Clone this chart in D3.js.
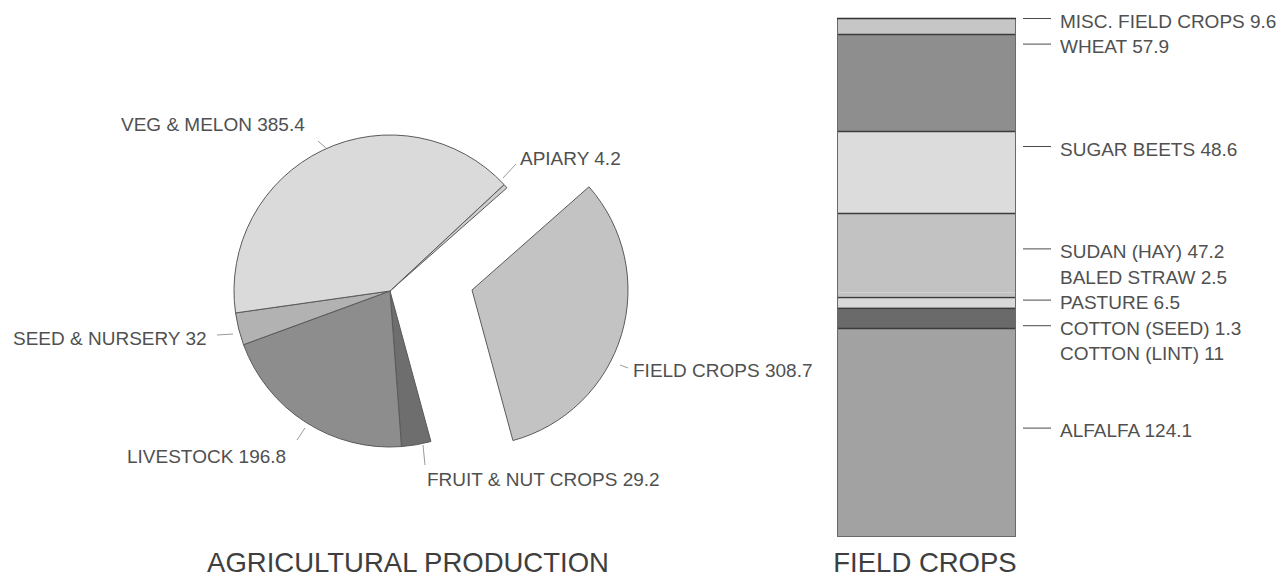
<!DOCTYPE html>
<html>
<head>
<meta charset="utf-8">
<script src="https://cdn.jsdelivr.net/npm/d3@7"></script>
<style>
  html, body { margin: 0; padding: 0; background: #fff; }
  svg { display: block; font-family: "Liberation Sans", Arial, Helvetica, sans-serif; }
</style>
</head>
<body>
<svg id="chart" width="1282" height="577"></svg>
<script>
// Agricultural production by sector (pie, clockwise from the apiary sliver)
const prodCategories = ["APIARY", "FIELD CROPS", "FRUIT & NUT CROPS", "LIVESTOCK", "SEED & NURSERY", "VEG & MELON"];
const prodValues = [4.2, 308.7, 29.2, 196.8, 32, 385.4];

// Field crops breakdown (stacked column, top to bottom)
const cropCategories = ["MISC. FIELD CROPS", "WHEAT", "SUGAR BEETS", "SUDAN (HAY)", "BALED STRAW", "PASTURE", "COTTON (SEED)", "COTTON (LINT)", "ALFALFA"];
const cropValues = [9.6, 57.9, 48.6, 47.2, 2.5, 6.5, 1.3, 11, 124.1];

const titles = ["AGRICULTURAL PRODUCTION", "FIELD CROPS"];

// ---- styling ----
const prodFill = {
  "APIARY": "#cdcdcd",
  "FIELD CROPS": "#c3c3c3",
  "FRUIT & NUT CROPS": "#6e6e6e",
  "LIVESTOCK": "#8d8d8d",
  "SEED & NURSERY": "#b2b2b2",
  "VEG & MELON": "#dadada"
};
const cropFill = ["#c6c6c6", "#8e8e8e", "#dcdcdc", "#c2c2c2", "#c2c2c2", "#d9d9d9", "#626262", "#6a6a6a", "#a2a2a2"];
const textColor = "#505050";
const labelSize = 19;

const svg = d3.select("#chart");

// ================= PIE =================
const cx = 390, cy = 291, radius = 156;
const deg = Math.PI / 180;
const startA = 47 * deg;

const pie = d3.pie().sort(null).value(d => d.v)
  .startAngle(startA).endAngle(startA + 2 * Math.PI);
const arcs = pie(prodCategories.map((c, i) => ({ c, v: prodValues[i] })));
const arc = d3.arc().innerRadius(0).outerRadius(radius);

// the field crops wedge is pulled out to the right
const explode = { "FIELD CROPS": [82, -1] };

const pieG = svg.append("g").attr("transform", `translate(${cx},${cy})`);
pieG.selectAll("path.slice")
  .data(arcs)
  .join("path")
  .attr("class", "slice")
  .attr("d", arc)
  .attr("transform", d => {
    const o = explode[d.data.c] || [0, 0];
    return `translate(${o[0]},${o[1]})`;
  })
  .attr("fill", d => prodFill[d.data.c])
  .attr("stroke", "#5a5a5a")
  .attr("stroke-width", 1)
  .attr("stroke-linejoin", "round");

// label placement relative to the pie centre: text start point and leader segment
const pieLabelLayout = {
  "VEG & MELON":      { tx: -269, ty: -160, line: [[-72, -150], [-64, -143]] },
  "APIARY":           { tx: 130,  ty: -126, line: [[113, -113], [126, -127]] },
  "SEED & NURSERY":   { tx: -377, ty: 54,   line: [[-173, 44], [-157, 43]] },
  "FIELD CROPS":      { tx: 243,  ty: 86,   line: [[230, 74], [238, 77]] },
  "LIVESTOCK":        { tx: -263, ty: 172,  line: [[-93, 149], [-85, 137]] },
  "FRUIT & NUT CROPS":{ tx: 37,   ty: 195,  line: [[33, 154], [35, 174]] }
};

const fmt = v => String(v);

const pieLabels = pieG.selectAll("g.plabel")
  .data(arcs)
  .join("g")
  .attr("class", "plabel");
pieLabels.append("line")
  .attr("x1", d => pieLabelLayout[d.data.c].line[0][0])
  .attr("y1", d => pieLabelLayout[d.data.c].line[0][1])
  .attr("x2", d => pieLabelLayout[d.data.c].line[1][0])
  .attr("y2", d => pieLabelLayout[d.data.c].line[1][1])
  .attr("stroke", "#9a9a9a")
  .attr("stroke-width", 1);
pieLabels.append("text")
  .attr("x", d => pieLabelLayout[d.data.c].tx)
  .attr("y", d => pieLabelLayout[d.data.c].ty)
  .attr("font-size", labelSize)
  .attr("fill", textColor)
  .text(d => `${d.data.c} ${fmt(d.data.v)}`);

// ================= STACKED COLUMN =================
const barX0 = 837, barX1 = 1016, barTop = 18, barBottom = 537;
const total = d3.sum(cropValues);
const y = d3.scaleLinear().domain([0, total]).range([barTop, barBottom]);

const cum = [];
cropValues.reduce((acc, v, i) => { cum.push([acc, acc + v]); return acc + v; }, 0);
const segs = cropCategories.map((c, i) => ({ c, v: cropValues[i], y0: cum[i][0], y1: cum[i][1], fill: cropFill[i] }));

const barG = svg.append("g");
barG.selectAll("rect.seg")
  .data(segs)
  .join("rect")
  .attr("class", "seg")
  .attr("x", barX0)
  .attr("width", barX1 - barX0)
  .attr("y", d => y(d.y0))
  .attr("height", d => y(d.y1) - y(d.y0))
  .attr("fill", d => d.fill);

// separators between blocks (straw shares the sudan block, lint shares the seed block)
const joined = new Set(["BALED STRAW", "COTTON (LINT)"]);
barG.selectAll("line.sep")
  .data(segs.filter((d, i) => i > 0 && !joined.has(d.c)))
  .join("line")
  .attr("class", "sep")
  .attr("x1", barX0).attr("x2", barX1)
  .attr("y1", d => Math.round(y(d.y0)) + 0.5)
  .attr("y2", d => Math.round(y(d.y0)) + 0.5)
  .attr("stroke", "#3c3c3c")
  .attr("stroke-width", 1.3);

barG.append("rect")
  .attr("x", barX0 + 0.5).attr("y", barTop + 0.5)
  .attr("width", barX1 - barX0 - 1).attr("height", barBottom - barTop - 1)
  .attr("fill", "none")
  .attr("stroke", "#6a6a6a")
  .attr("stroke-width", 1);
barG.append("line")
  .attr("x1", barX0).attr("x2", barX1)
  .attr("y1", barTop + 0.5).attr("y2", barTop + 0.5)
  .attr("stroke", "#333").attr("stroke-width", 1.5);

// labels sit on a fixed line grid beside the column
const rowTop = 20.5, rowStep = 25.6;
const cropLabelRow = [0, 1, 5, 9, 10, 11, 12, 13, 16];

const cropLabels = barG.selectAll("g.clabel")
  .data(segs)
  .join("g")
  .attr("class", "clabel")
  .attr("transform", (d, i) => `translate(0,${rowTop + cropLabelRow[i] * rowStep})`);
cropLabels.filter(d => !joined.has(d.c))
  .append("line")
  .attr("x1", 1023).attr("x2", 1051)
  .attr("y1", -2).attr("y2", -2)
  .attr("stroke", "#4a4a4a")
  .attr("stroke-width", 1);
cropLabels.append("text")
  .attr("x", 1060)
  .attr("y", 7)
  .attr("font-size", labelSize)
  .attr("fill", textColor)
  .text(d => `${d.c} ${fmt(d.v)}`);

// ================= TITLES =================
svg.append("text")
  .attr("x", 408).attr("y", 572)
  .attr("text-anchor", "middle")
  .attr("font-size", 27.5)
  .attr("fill", "#3e3e3e")
  .text(titles[0]);
svg.append("text")
  .attr("x", 925).attr("y", 572)
  .attr("text-anchor", "middle")
  .attr("font-size", 27.5)
  .attr("fill", "#3e3e3e")
  .text(titles[1]);
</script>
</body>
</html>
